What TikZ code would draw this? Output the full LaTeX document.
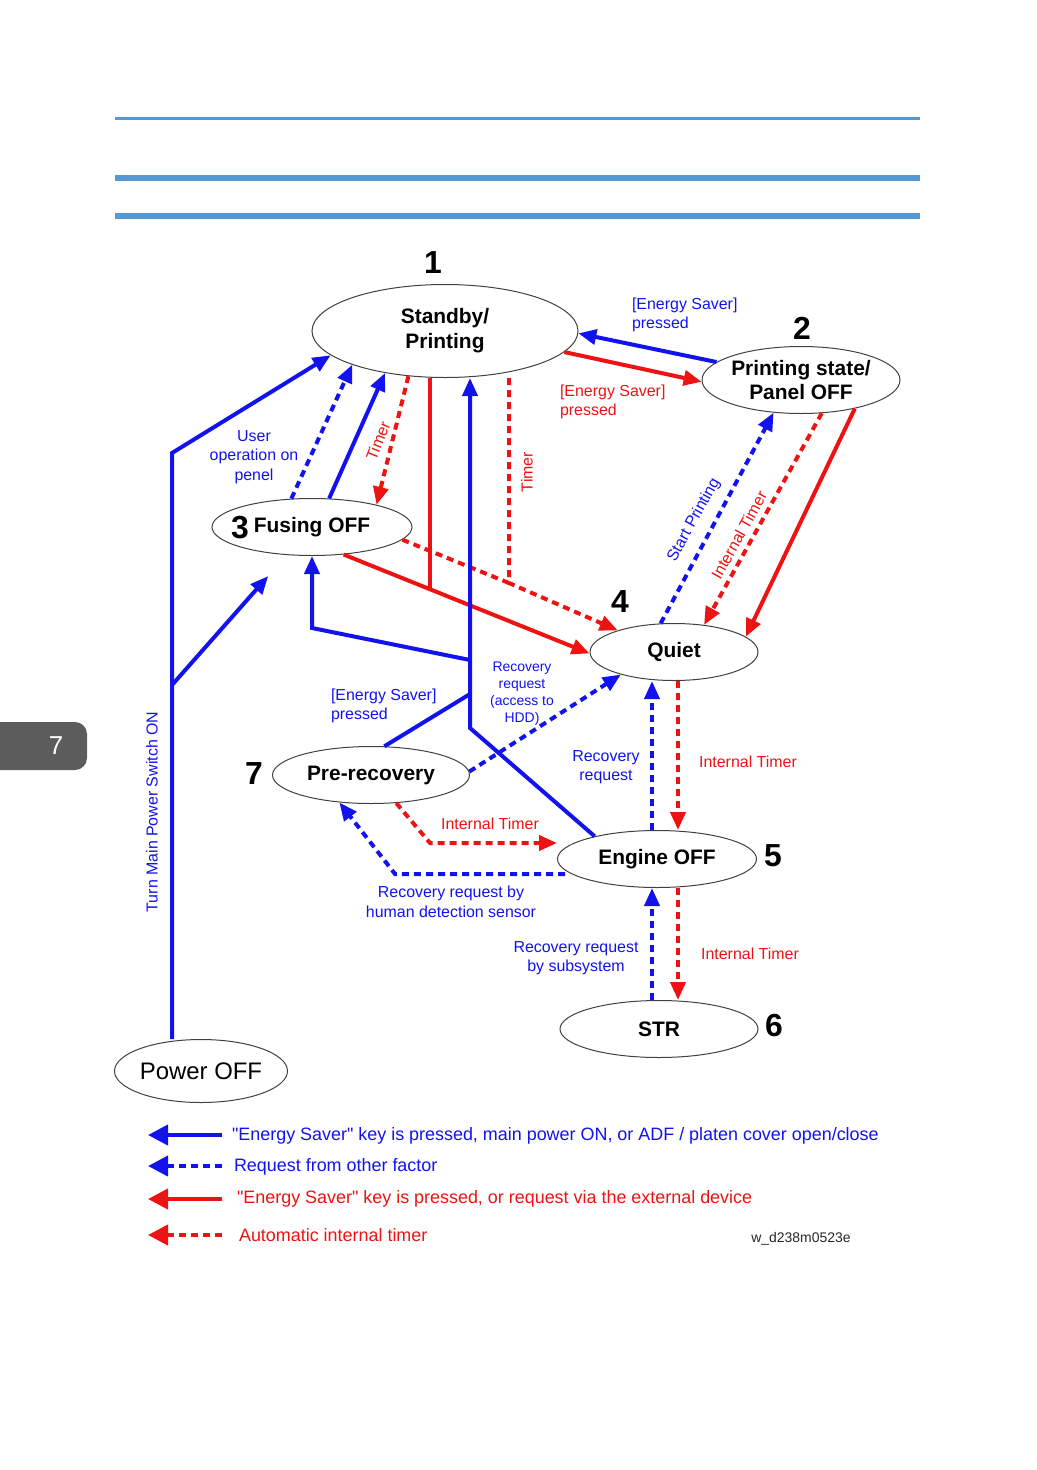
\documentclass[tikz,border=0pt]{standalone}
\usepackage{fontspec}
\setmainfont{Liberation Sans}
\definecolor{keyblue}{HTML}{1212EE}
\definecolor{keyred}{HTML}{EE1212}
\definecolor{rulecol}{HTML}{5598D6}
\definecolor{tabgray}{HTML}{5C5C5C}
\usetikzlibrary{arrows.meta,shapes.geometric}

\begin{document}
\begin{tikzpicture}[x=0.5bp,y=-0.5bp,>={Triangle[length=9bp,width=7.5bp]},
  every node/.style={font=\fontsize{8}{9.8}\selectfont},
  state/.style={draw=black!75,line width=0.5bp,ellipse,inner sep=0pt,align=center,font=\fontsize{10.5}{12.5}\selectfont\bfseries},
  num/.style={font=\fontsize{16}{16}\selectfont\bfseries},
  bnote/.style={text=keyblue,align=center},
  rnote/.style={text=keyred,align=center},
  bsolid/.style={keyblue,line width=2bp},
  bdash/.style={bsolid,dash pattern=on 3.5bp off 2.5bp},
  rsolid/.style={keyred,line width=2bp},
  rdash/.style={rsolid,dash pattern=on 3.5bp off 2.5bp},
  keyarrow/.style={>={Triangle[length=10bp,width=10bp]}},
  keytext/.style={anchor=west,font=\fontsize{9}{11}\selectfont}]
\useasboundingbox (0,0) rectangle (1036,1470);
\draw[rulecol,line width=1.5bp] (115,118) -- (920,118);
\draw[rulecol,line width=3bp] (115,178) -- (920,178);
\draw[rulecol,line width=3bp] (115,216) -- (920,216);
\fill[tabgray,rounded corners=6bp] (-30,722) rectangle (87,770);
\node[text=white,font=\fontsize{13}{13}\selectfont] (chap) at (56,746) {7};

\node[state,minimum width=133bp,minimum height=46.5bp] (standby) at (445,331) {Standby/\\Printing};
\node[state,minimum width=99bp,minimum height=33.5bp] (panel) at (801,380) {Printing state/\\Panel OFF};
\node[state,minimum width=100bp,minimum height=28.5bp] (fusing) at (312,527) {Fusing OFF};
\node[state,minimum width=84bp,minimum height=28.5bp] (quiet) at (674,652) {Quiet};
\node[state,minimum width=98.5bp,minimum height=28.5bp] (prerec) at (371,775) {Pre-recovery};
\node[state,minimum width=99.5bp,minimum height=28.5bp] (engine) at (657,859) {Engine OFF};
\node[state,minimum width=99bp,minimum height=28.5bp] (str) at (659,1029) {STR};
\node[state,font=\fontsize{12}{12}\selectfont,minimum width=86.5bp,minimum height=31.5bp] (poweroff) at (201,1071) {Power OFF};

\node[num] (n1) at (433,263) {1};
\node[num] (n2) at (802,328) {2};
\node[num] (n3) at (240,528) {3};
\node[num] (n4) at (620,602) {4};
\node[num] (n5) at (773,856) {5};
\node[num] (n6) at (774,1026) {6};
\node[num] (n7) at (254,774) {7};

\coordinate (pcorner) at (172,453);
\coordinate (pfork) at (172,685);
\draw[bsolid,->] (poweroff.north -| pcorner) -- (pcorner) -- (standby.192);
\draw[bsolid,->,shorten >=14bp] (pfork) -- (fusing.228);
\draw[bdash,->] (fusing.126) -- (standby.200);
\draw[bsolid,->] (fusing.59) -- (standby.215);
\draw[rdash,->] (standby.231) -- (fusing.19);

\draw[rsolid,->] (fusing.-41) -- coordinate[pos=0.353] (rjoin) (quiet.181);
\draw[rsolid] (standby.south -| rjoin) -- (rjoin);
\coordinate (tjoin) at (509,583);
\draw[rdash,->] (standby.south -| tjoin) -- (tjoin) -- (quiet.159);
\draw[rdash] (fusing.-8) -- (tjoin);

\coordinate (vlow) at (470,728);
\coordinate (vmid) at (470,694);
\coordinate (vfork) at (470,660);
\coordinate (vbend) at (312,628);
\draw[bsolid,->] (engine.160) -- (vlow) -- (standby.south -| vlow);
\draw[bsolid] (prerec.65) -- (vmid);
\draw[bsolid,->] (vfork) -- (vbend) -- (fusing.south);

\draw[bsolid,->] (panel.168) -- (standby.-1);
\draw[rsolid,->] (standby.-10) -- (panel.181);
\draw[bdash,->] (quiet.115) -- (panel.230);
\draw[rdash,->] (panel.302) -- (quiet.42);
\draw[rsolid,->] (panel.-28) -- (quiet.12);
\draw[bdash,->] (prerec.2) -- (quiet.203);

\coordinate (qup) at (652,760);
\coordinate (qdn) at (678,760);
\draw[bdash,->] (engine.north -| qup) -- (quiet.south -| qup);
\draw[rdash,->] (quiet.south -| qdn) -- (engine.north -| qdn);
\draw[bdash,->] (str.north -| qup) -- (engine.south -| qup);
\draw[rdash,->] (engine.south -| qdn) -- (str.north -| qdn);

\coordinate (tbend) at (430,843);
\coordinate (hbend) at (395,874);
\draw[rdash,->] (prerec.-48) -- (tbend) -- (engine.west |- tbend);
\draw[bdash,->] ([xshift=4bp]engine.west |- hbend) -- (hbend) -- (prerec.221);

\node[bnote,rotate=90] (turnlbl) at (152,812) {Turn Main Power Switch ON};
\node[bnote] (userlbl) at (254,457) {User\\operation on\\penel};
\node[rnote,rotate=68] (timer1) at (378,441) {Timer};
\node[rnote,rotate=90] (timer2) at (527,472) {Timer};
\node[bnote,anchor=west,align=left] (esblue) at (625,315) {[Energy Saver]\\pressed};
\node[rnote,anchor=west,align=left] (esred) at (553,402) {[Energy Saver]\\pressed};
\node[bnote,rotate=61] (startlbl) at (694,520) {Start Printing};
\node[rnote,rotate=61] (itimer1) at (739,535) {Internal Timer};
\node[bnote,anchor=west,align=left] (esmid) at (324,706) {[Energy Saver]\\pressed};
\node[bnote,font=\fontsize{7}{8.5}\selectfont] (hddlbl) at (522,694) {Recovery\\request\\(access to\\HDD)};
\node[bnote] (reqlbl) at (606,767) {Recovery\\request};
\node[rnote] (itimer2) at (748,762) {Internal Timer};
\node[rnote] (itimer3) at (490,824) {Internal Timer};
\node[bnote] (humanlbl) at (451,902) {Recovery request by\\human detection sensor};
\node[bnote] (sublbl) at (576,958) {Recovery request\\by subsystem};
\node[rnote] (itimer4) at (750,954) {Internal Timer};

\coordinate (k1a) at (222,1135); \coordinate (k1b) at (148,1135);
\coordinate (k2a) at (222,1166); \coordinate (k2b) at (148,1166);
\coordinate (k3a) at (222,1199); \coordinate (k3b) at (148,1199);
\coordinate (k4a) at (222,1235); \coordinate (k4b) at (148,1235);
\draw[bsolid,keyarrow,->] (k1a) -- (k1b);
\draw[bdash,keyarrow,->] (k2a) -- (k2b);
\draw[rsolid,keyarrow,->] (k3a) -- (k3b);
\draw[rdash,keyarrow,->] (k4a) -- (k4b);
\node[keytext,text=keyblue] (k1txt) at (225,1136) {\textquotedbl Energy Saver\textquotedbl{} key is pressed, main power ON, or ADF / platen cover open/close};
\node[keytext,text=keyblue] (k2txt) at (227,1167) {Request from other factor};
\node[keytext,text=keyred] (k3txt) at (230,1199) {\textquotedbl Energy Saver\textquotedbl{} key is pressed, or request via the external device};
\node[keytext,text=keyred] (k4txt) at (232,1235) {Automatic internal timer};
\node[font=\fontsize{7}{8}\selectfont,text=black!85] (figid) at (801,1239) {w\_d238m0523e};
\end{tikzpicture}
\end{document}
